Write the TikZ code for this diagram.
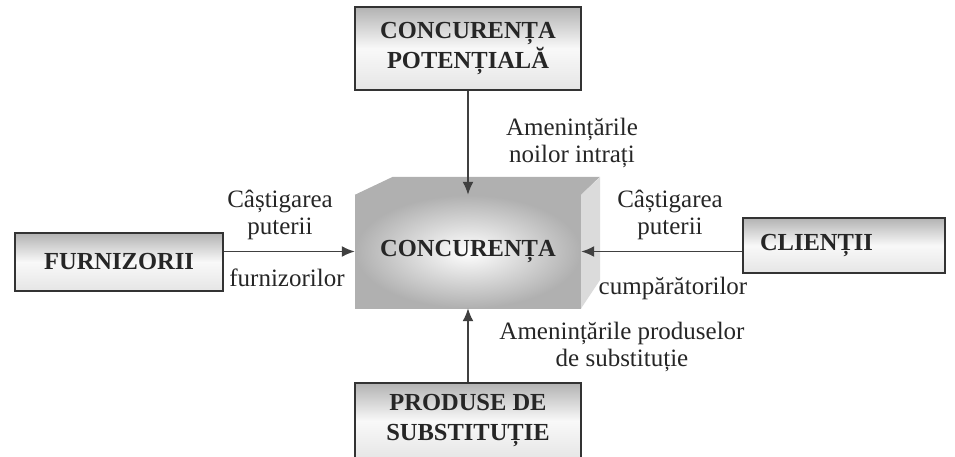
\documentclass[tikz,border=0pt]{standalone}
\usepackage{fontspec}
\setmainfont{Liberation Serif}
\usetikzlibrary{arrows.meta}
\begin{document}
\begin{tikzpicture}[x=1pt,y=-1pt,
  every node/.style={text=black!85},
  lblfont/.style={font=\fontsize{25}{27}\selectfont},
  boxstyle/.style={draw=black!80, line width=1.8pt, top color=gray!60, bottom color=gray!20, middle color=gray!5,
    font=\fontsize{24.5}{30}\selectfont\bfseries, align=center, inner sep=0pt},
  lbl/.style={lblfont, align=center, inner sep=0pt},
  arr/.style={draw=black!75, line width=1.7pt, -{Latex[length=13pt,width=11pt]}}
]
\useasboundingbox (0,0) rectangle (955,456);
% side boxes
\node[boxstyle, minimum width=226pt, minimum height=83pt] (pot) at (468,48.5) {CONCURENȚA\\POTENȚIALĂ};
\node[boxstyle, minimum width=208pt, minimum height=58pt] (furn) at (119,262) {FURNIZORII};
\node[boxstyle, text width=168pt, align=left, inner xsep=17pt, minimum height=55pt] (cli) at (844,245.5) {CLIENȚII};
\node[boxstyle, minimum width=226pt, minimum height=76pt] (sub) at (468,421) {PRODUSE DE\\SUBSTITUȚIE};
% central block
\node[minimum width=226pt, minimum height=113pt, inner color=white, outer color=gray!62,
  font=\fontsize{24.5}{30}\selectfont\bfseries] (conc) at (468,251.5) {CONCURENȚA};
\fill[gray!62] (conc.north west) -- ++(38,-18) -- ++(207,0) -- (conc.north east) -- cycle;
\fill[gray!28] (conc.north east) -- ++(19,-18) -- ++(0,103) -- (conc.south east) -- cycle;
% arrows
\draw[arr] (pot.south) -- (conc.north);
\draw[arr] (sub.north) -- (conc.south);
\draw[arr] (conc.west -| furn.east) -- (conc.west);
\draw[arr] (conc.east -| cli.west) -- (conc.east);
% labels
\node[lbl] (l1) at (572,143) {Amenințările\\noilor intrați};
\node[lbl] (l2) at (280,215) {Câștigarea\\puterii};
\node[lbl] (l3) at (287,278) {furnizorilor};
\node[lbl] (l4) at (670,215) {Câștigarea\\puterii};
\node[lbl] (l5) at (673,288) {cumpărătorilor};
\node[lbl] (l6) at (622,347) {Amenințările produselor\\de substituție};
\end{tikzpicture}
\end{document}
